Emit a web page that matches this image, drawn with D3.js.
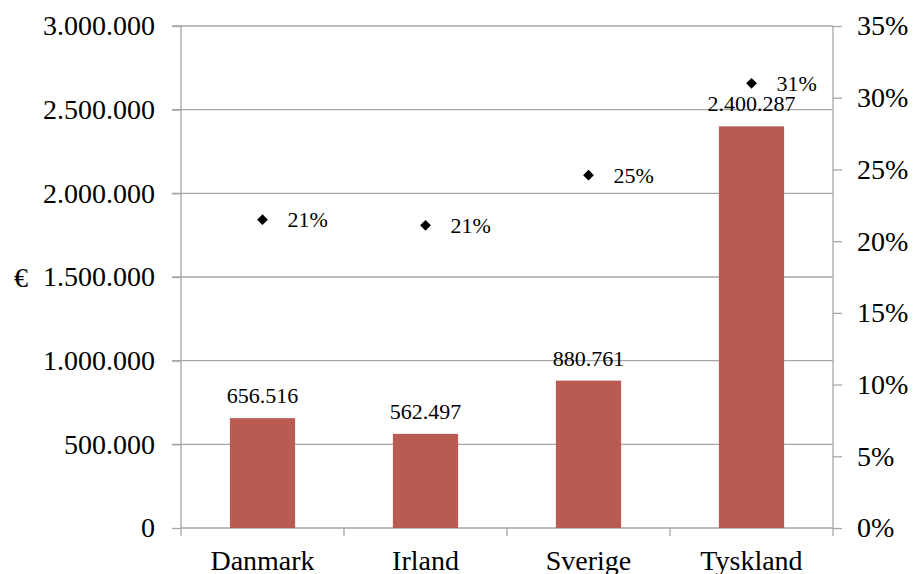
<!DOCTYPE html>
<html>
<head>
<meta charset="utf-8">
<script src="https://cdn.jsdelivr.net/npm/d3@7"></script>
<style>
  html, body { margin: 0; padding: 0; background: #fff; }
  svg { display: block; }
  text { font-family: "Liberation Serif", "DejaVu Serif", serif; fill: #000; }
</style>
</head>
<body>
<svg id="chart" width="914" height="574"></svg>
<script>
const categories = ["Danmark", "Irland", "Sverige", "Tyskland"];
const amounts = [656516, 562497, 880761, 2400287];
const amountLabels = ["656.516", "562.497", "880.761", "2.400.287"];
const shares = [0.215, 0.211, 0.246, 0.310];
const shareLabels = ["21%", "21%", "25%", "31%"];
const leftTicks = [0, 500000, 1000000, 1500000, 2000000, 2500000, 3000000];
const rightTicks = [0, 0.05, 0.10, 0.15, 0.20, 0.25, 0.30, 0.35];

const svg = d3.select("#chart");
const W = 914, H = 574;
const m = { left: 181, right: 81, top: 26, bottom: 46 };
const x0 = m.left, x1 = W - m.right, y0 = H - m.bottom, y1 = m.top;

const x = d3.scaleBand().domain(categories).range([x0, x1]).padding(0);
const yL = d3.scaleLinear().domain([0, 3000000]).range([y0, y1]);
const yR = d3.scaleLinear().domain([0, 0.35]).range([y0, y1]);

const gridColor = "#a6a6a6";
const fmtThousands = v => d3.format(",")(v).replace(/,/g, ".");

// gridlines
svg.append("g").selectAll("line").data(leftTicks.filter(d => d > 0)).join("line")
  .attr("x1", x0 - 9).attr("x2", x1)
  .attr("y1", d => yL(d)).attr("y2", d => yL(d))
  .attr("stroke", gridColor).attr("stroke-width", 1.3);

// left axis
const gL = svg.append("g").attr("transform", `translate(${x0},0)`)
  .call(d3.axisLeft(yL).tickValues(leftTicks).tickFormat(fmtThousands).tickSize(9).tickPadding(17));
gL.select(".domain").attr("stroke", gridColor).attr("stroke-width", 1.3).attr("d", `M0,${y0}V${y1}`);
gL.selectAll(".tick line").attr("stroke", gridColor).attr("stroke-width", 1.3);
gL.selectAll(".tick text").attr("font-size", 28).attr("font-family", "Liberation Serif").attr("fill", "#000");

// right axis
const gR = svg.append("g").attr("transform", `translate(${x1},0)`)
  .call(d3.axisRight(yR).tickValues(rightTicks).tickFormat(d3.format(".0%")).tickSize(9).tickPadding(15));
gR.select(".domain").attr("stroke", gridColor).attr("stroke-width", 1.3).attr("d", `M0,${y0}V${y1}`);
gR.selectAll(".tick line").attr("stroke", gridColor).attr("stroke-width", 1.3);
gR.selectAll(".tick text").attr("font-size", 28).attr("font-family", "Liberation Serif").attr("fill", "#000");

// bottom axis
svg.append("line").attr("x1", x0).attr("x2", x1).attr("y1", y0).attr("y2", y0)
  .attr("stroke", gridColor).attr("stroke-width", 1.3);
const boundaries = categories.map(c => x(c)).concat([x1]);
svg.append("g").selectAll("line").data(boundaries).join("line")
  .attr("x1", d => d).attr("x2", d => d).attr("y1", y0).attr("y2", y0 + 8)
  .attr("stroke", gridColor).attr("stroke-width", 1.3);
svg.append("g").selectAll("text").data(categories).join("text")
  .attr("x", d => x(d) + x.bandwidth() / 2).attr("y", y0 + 42)
  .attr("text-anchor", "middle").attr("font-size", 28).text(d => d);

// y axis title
svg.append("text").attr("x", 21).attr("y", yL(1500000)).attr("dy", "0.35em")
  .attr("text-anchor", "middle").attr("font-size", 28).text("€");

// bars
const barW = x.bandwidth() * 0.4;
svg.append("g").selectAll("rect").data(amounts).join("rect")
  .attr("x", (d, i) => x(categories[i]) + (x.bandwidth() - barW) / 2)
  .attr("width", barW)
  .attr("y", d => yL(d))
  .attr("height", d => y0 - yL(d))
  .attr("fill", "#b95b53");

// bar labels
svg.append("g").selectAll("text").data(amounts).join("text")
  .attr("x", (d, i) => x(categories[i]) + x.bandwidth() / 2)
  .attr("y", d => yL(d) - 15)
  .attr("text-anchor", "middle").attr("font-size", 22)
  .text((d, i) => amountLabels[i]);

// diamonds
const diamond = d3.symbol().type(d3.symbolSquare).size(58);
svg.append("g").selectAll("path").data(shares).join("path")
  .attr("d", diamond)
  .attr("transform", (d, i) => `translate(${x(categories[i]) + x.bandwidth() / 2},${yR(d)}) rotate(45)`)
  .attr("fill", "#000");

svg.append("g").selectAll("text").data(shares).join("text")
  .attr("x", (d, i) => x(categories[i]) + x.bandwidth() / 2 + 25)
  .attr("y", d => yR(d)).attr("dy", "0.35em")
  .attr("font-size", 22)
  .text((d, i) => shareLabels[i]);
</script>
</body>
</html>
